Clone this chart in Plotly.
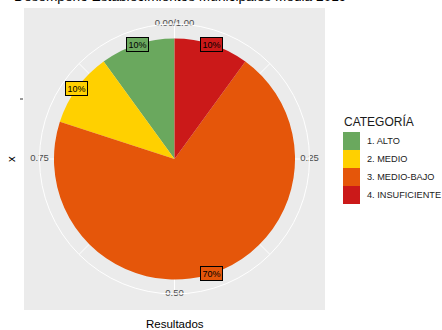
import math
import plotly.graph_objects as go

categories = ["1. ALTO", "2. MEDIO", "3. MEDIO-BAJO", "4. INSUFICIENTE"]
percent = [10, 10, 70, 10]
colors = ["#6AA85E", "#FFD000", "#E5560A", "#CB1919"]
tick_vals = [0, 0.25, 0.5, 0.75]
tick_text = ["0.00/1.00", "0.25", "0.50", "0.75"]

FONT = "Liberation Sans, Arial, sans-serif"
W, H = 442, 330
ML, MR, MT, MB = 24, 117, 8, 20
PW, PH = W - ML - MR, H - MT - MB
R_MAX = 1.12  # radial range; pie edge at r=1


def px(xp):
    return (xp - ML) / PW


def py(yp):
    return (H - MB - yp) / PH


total = sum(percent)
order = list(range(len(categories)))[::-1]
start = {}
cum = 0.0
for i in order:
    start[i] = cum
    cum += percent[i] / total

fig = go.Figure()
for i, cat in enumerate(categories):
    frac = percent[i] / total
    fig.add_trace(go.Barpolar(
        r=[1], theta=[(start[i] + frac / 2) * 360], width=[frac * 360],
        base=0, name=cat, marker=dict(color=colors[i], line=dict(width=0)),
        hoverinfo="skip", showlegend=False,
    ))

fig.add_trace(go.Scatterpolar(
    r=[R_MAX] * len(tick_vals), theta=[v * 360 for v in tick_vals],
    text=tick_text, mode="text", cliponaxis=False, showlegend=False,
    textfont=dict(family=FONT, size=9.5, color="#4D4D4D"), hoverinfo="skip",
))

dom = 270 / PW
domy = 270 / PH
shapes = [
    dict(type="rect", xref="paper", yref="paper", x0=0, x1=1, y0=0, y1=1,
         fillcolor="#EBEBEB", line=dict(width=0), layer="below"),
    dict(type="line", xref="paper", yref="paper",
         x0=px(20), x1=px(23), y0=py(99), y1=py(99),
         line=dict(color="#333333", width=1)),
]
ann = []

# manual legend (ggplot style keys)
ann.append(dict(xref="paper", yref="paper", x=px(342), y=py(121), text="CATEGORÍA",
                showarrow=False, xanchor="left", yanchor="middle",
                font=dict(family=FONT, size=12, color="#1A1A1A")))
for i, cat in enumerate(categories):
    y0 = 132 + 18 * i
    shapes.append(dict(type="rect", xref="paper", yref="paper",
                       x0=px(343), x1=px(360), y0=py(y0 + 18), y1=py(y0),
                       fillcolor=colors[i], line=dict(width=0)))
    ann.append(dict(xref="paper", yref="paper", x=px(365), y=py(y0 + 9), text=cat,
                    showarrow=False, xanchor="left", yanchor="middle",
                    font=dict(family=FONT, size=9.2, color="#1A1A1A")))

rpx = 135 / R_MAX
for i in range(len(categories)):
    frac = percent[i] / total
    a = (start[i] + frac / 2) * 2 * math.pi
    ann.append(dict(
        xref="paper", yref="paper",
        x=0.5 + rpx * math.sin(a) / PW, y=0.5 + rpx * math.cos(a) / PH,
        text=f"{percent[i]}%", showarrow=False,
        font=dict(family=FONT, size=9, color="black"),
        bgcolor=colors[i], bordercolor="black", borderwidth=1, borderpad=1.5,
        xanchor="center", yanchor="middle",
    ))
ann.append(dict(xref="paper", yref="paper", x=px(12), y=py(-3),
                text="Desempeño Establecimientos Municipales Media 2019",
                showarrow=False, xanchor="left", yanchor="middle",
                font=dict(family=FONT, size=13.7, color="black")))
ann.append(dict(xref="paper", yref="paper", x=0.5, y=py(324),
                text="Resultados", showarrow=False, xanchor="center", yanchor="middle",
                font=dict(family=FONT, size=11.5, color="black")))
ann.append(dict(xref="paper", yref="paper", x=px(11), y=0.5,
                text="x", showarrow=False, textangle=-90, xanchor="center", yanchor="middle",
                font=dict(family=FONT, size=11.5, color="black")))

fig.update_layout(
    width=W, height=H,
    margin=dict(l=ML, r=MR, t=MT, b=MB, autoexpand=False),
    paper_bgcolor="white",
    font=dict(family=FONT),
    showlegend=False,
    polar=dict(
        domain=dict(x=[0.5 - dom / 2, 0.5 + dom / 2], y=[0.5 - domy / 2, 0.5 + domy / 2]),
        bgcolor="#EBEBEB", bargap=0, hole=0,
        radialaxis=dict(range=[0, R_MAX], showgrid=False, showline=False,
                        showticklabels=False, ticks=""),
        angularaxis=dict(rotation=90, direction="clockwise",
                         tickvals=[k * 45 for k in range(8)],
                         ticktext=[""] * 8, showticklabels=False, ticks="",
                         showgrid=True, gridcolor="white", gridwidth=1,
                         showline=True, linecolor="white", linewidth=1),
    ),
    shapes=shapes,
    annotations=ann,
)

fig.write_html("out.html", config={"displayModeBar": False},
               post_script="document.body.style.margin='0';document.body.style.overflow='hidden';")
